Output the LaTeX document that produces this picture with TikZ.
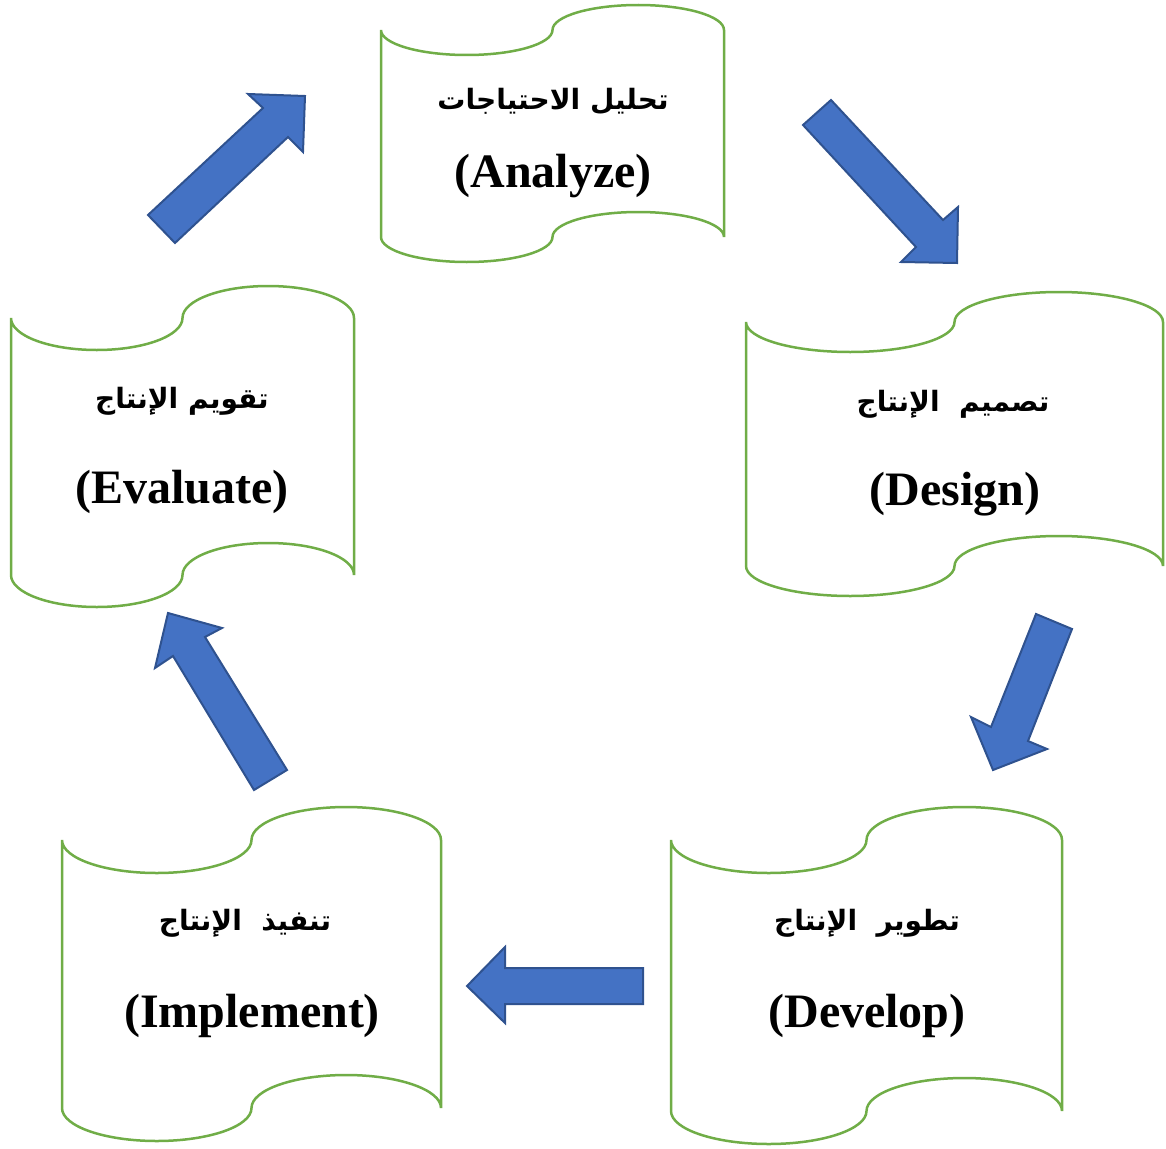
\documentclass[tikz,border=0pt]{standalone}
\usepackage{fontspec}
\setmainfont{Liberation Serif}
\newfontfamily\arabicfont[Script=Arabic]{DejaVu Sans}
\TeXXeTstate=1
\definecolor{tapegreen}{HTML}{70AD47}
\definecolor{arrowblue}{HTML}{4472C4}
\definecolor{arrowedge}{HTML}{2F528F}
\tikzset{
  tapeline/.style={draw=tapegreen, line width=2.5pt, fill=white},
  blockarrow/.style={fill=arrowblue, draw=arrowedge, line width=2pt, line join=miter},
  engtext/.style={font=\fontsize{48}{56}\selectfont\bfseries, inner sep=0pt},
  arabtext/.style={font=\fontsize{28}{34}\arabicfont\bfseries, inner sep=0pt}
}
% #1 xl, #2 xr, #3 top baseline, #4 bottom baseline, #5 amplitude
\newcommand\tapeshape[5]{%
  \pgfmathsetmacro\tr{(#2-#1)/4}%
  \pgfmathsetmacro\tk{0.5523*\tr}%
  \pgfmathsetmacro\ak{0.5523*#5}%
  \draw[tapeline] (#1,#3)
    .. controls (#1,#3+\ak) and (#1+\tr-\tk,#3+#5) .. (#1+\tr,#3+#5)
    .. controls (#1+\tr+\tk,#3+#5) and (#1+2*\tr,#3+\ak) .. (#1+2*\tr,#3)
    .. controls (#1+2*\tr,#3-\ak) and (#1+3*\tr-\tk,#3-#5) .. (#1+3*\tr,#3-#5)
    .. controls (#1+3*\tr+\tk,#3-#5) and (#2,#3-\ak) .. (#2,#3)
    -- (#2,#4)
    .. controls (#2,#4-\ak) and (#1+3*\tr+\tk,#4-#5) .. (#1+3*\tr,#4-#5)
    .. controls (#1+3*\tr-\tk,#4-#5) and (#1+2*\tr,#4-\ak) .. (#1+2*\tr,#4)
    .. controls (#1+2*\tr,#4+\ak) and (#1+\tr+\tk,#4+#5) .. (#1+\tr,#4+#5)
    .. controls (#1+\tr-\tk,#4+#5) and (#1,#4+\ak) .. (#1,#4)
    -- cycle;%
}
\begin{document}
\begin{tikzpicture}[x=1pt, y=-1pt]
\useasboundingbox (0,0) rectangle (1166,1148);

% scroll boxes
\tapeshape{381}{724}{30}{237}{25}
\tapeshape{746}{1163}{322}{566}{30}
\tapeshape{11}{354}{318}{575}{32}
\tapeshape{671}{1062}{840}{1111}{33}
\tapeshape{62}{441}{840}{1108}{33}

% texts
\node[arabtext] (analyzeAr) at (553,101) {\beginR تحليل الاحتياجات\endR};
\node[engtext] (analyzeEn) at (553,176) {(Analyze)};
\node[arabtext] (designAr) at (953,404) {\beginR تصميم~ الإنتاج\endR};
\node[engtext] (designEn) at (955,494) {(Design)};
\node[arabtext] (evalAr) at (182,401) {\beginR تقويم الإنتاج\endR};
\node[engtext] (evalEn) at (182,492) {(Evaluate)};
\node[arabtext] (devAr) at (867,923) {\beginR تطوير~ الإنتاج\endR};
\node[engtext] (devEn) at (867,1016) {(Develop)};
\node[arabtext] (implAr) at (245,923) {\beginR تنفيذ~ الإنتاج\endR};
\node[engtext] (implEn) at (252,1016) {(Implement)};

% block arrows
\draw[blockarrow] (148,215) -- (263,108) -- (248,94) -- (305,96) -- (303,152) -- (288,137) -- (175,243) -- cycle;
\draw[blockarrow] (831,100) -- (943,220) -- (958,207) -- (957,263) -- (901,262) -- (916,247) -- (803,125) -- cycle;
\draw[blockarrow] (1036,614) -- (1072,629) -- (1028,741) -- (1047,749) -- (993,770) -- (971,717) -- (991,727) -- cycle;
\draw[blockarrow] (643,968) -- (505,968) -- (505,947) -- (467,986) -- (505,1023) -- (505,1004) -- (643,1004) -- cycle;
\draw[blockarrow] (287,770) -- (205,637) -- (222,628) -- (168,613) -- (155,668) -- (173,656) -- (254,790) -- cycle;
\end{tikzpicture}
\end{document}
